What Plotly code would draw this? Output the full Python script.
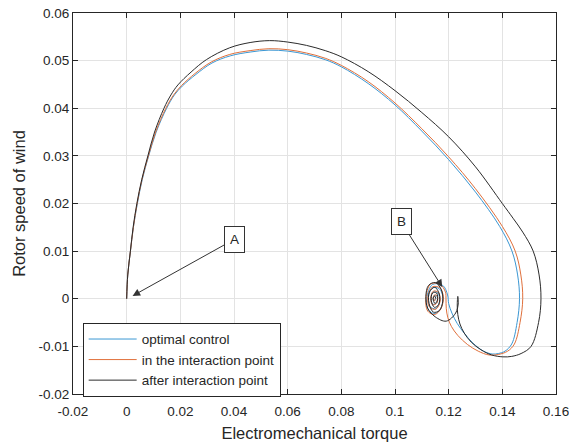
import plotly.graph_objects as go

# Trajectories in the (torque, rotor speed) plane
opt_x = [0, 0.0004, 0.0014, 0.0025, 0.0040, 0.0058, 0.0082, 0.0110, 0.0149, 0.0178, 0.0208,
         0.0258, 0.0318, 0.0386, 0.0460, 0.0530,
         0.0600, 0.0670, 0.0740, 0.0800, 0.0900, 0.1000, 0.1100, 0.1200, 0.1300, 0.1390,
         0.1436, 0.1457, 0.1464, 0.1455, 0.1435,
         0.1410, 0.1385, 0.1362, 0.1330, 0.1290, 0.1259, 0.1232, 0.1212, 0.1200, 0.1196,
         0.1178, 0.1140, 0.1118, 0.1125, 0.1150, 0.1172, 0.1178, 0.1165, 0.1140, 0.1125,
         0.1130, 0.1152, 0.1166, 0.1160, 0.1143, 0.1134, 0.1142, 0.1156, 0.1156, 0.1147,
         0.1143, 0.1148, 0.1150]
opt_y = [0, 0.0050, 0.0100, 0.0150, 0.0200, 0.0250, 0.0300, 0.0350, 0.0400, 0.0428, 0.0447,
         0.0471, 0.0495, 0.0510, 0.0518, 0.0522,
         0.0520, 0.0513, 0.0502, 0.0487, 0.0452, 0.0407, 0.0352, 0.0292, 0.0224, 0.0152,
         0.0100, 0.0050, 0.0000, -0.0050, -0.0095,
         -0.0110, -0.0115, -0.0116, -0.0110, -0.0093, -0.0073, -0.0052, -0.0030, -0.0010, 0.0008,
         0.0028, 0.0030, 0.0000, -0.0024, -0.0031, -0.0019, 0.0005, 0.0021, 0.0023, 0.0005,
         -0.0016, -0.0021, -0.0005, 0.0012, 0.0015, 0.0000, -0.0012, -0.0008, 0.0006, 0.0007,
         0.0000, -0.0004, 0.0000]

int_x = [0, 0.0004, 0.0014, 0.0025, 0.0039, 0.0057, 0.0081, 0.0108, 0.0146, 0.0175, 0.0205,
         0.0255, 0.0315, 0.0384, 0.0460, 0.0530,
         0.0600, 0.0670, 0.0740, 0.0800, 0.0900, 0.1000, 0.1100, 0.1200, 0.1300, 0.1400,
         0.1448, 0.1469, 0.1476, 0.1466, 0.1445,
         0.1420, 0.1385, 0.1350, 0.1310, 0.1270, 0.1234, 0.1210, 0.1197, 0.1191, 0.1190, 0.1188,
         0.1168, 0.1133, 0.1115, 0.1122, 0.1148, 0.1172, 0.1180, 0.1167, 0.1140, 0.1123,
         0.1128, 0.1152, 0.1168, 0.1162, 0.1143, 0.1133, 0.1141, 0.1157, 0.1157, 0.1147,
         0.1142, 0.1148, 0.1150]
int_y = [0, 0.0050, 0.0100, 0.0150, 0.0200, 0.0250, 0.0300, 0.0350, 0.0400, 0.0428, 0.0448,
         0.0473, 0.0497, 0.0513, 0.0521, 0.0525,
         0.0523, 0.0516, 0.0505, 0.0490, 0.0456, 0.0411, 0.0357, 0.0298, 0.0231, 0.0152,
         0.0100, 0.0050, 0.0000, -0.0050, -0.0095,
         -0.0110, -0.0117, -0.0118, -0.0110, -0.0096, -0.0077, -0.0058, -0.0040, -0.0020, 0.0000, 0.0014,
         0.0030, 0.0031, 0.0000, -0.0026, -0.0033, -0.0020, 0.0005, 0.0023, 0.0025, 0.0005,
         -0.0017, -0.0022, -0.0005, 0.0013, 0.0016, 0.0000, -0.0013, -0.0008, 0.0006, 0.0008,
         0.0000, -0.0004, 0.0000]

aft_x = [0, 0.0004, 0.0014, 0.0024, 0.0038, 0.0056, 0.0079, 0.0104, 0.0139, 0.0165, 0.0191,
         0.0240, 0.0297, 0.0384, 0.0460, 0.0533,
         0.0600, 0.0670, 0.0740, 0.0800, 0.0900, 0.1000, 0.1100, 0.1200, 0.1300, 0.1400,
         0.1440, 0.1476, 0.1515, 0.1537, 0.1544, 0.1535, 0.1507,
         0.1470, 0.1435, 0.1402, 0.1360, 0.1320, 0.1284, 0.1258, 0.1242, 0.1234, 0.1232, 0.1234,
         0.1236, 0.1226, 0.1191, 0.1150, 0.1122, 0.1115, 0.1125, 0.1150, 0.1172, 0.1178,
         0.1165, 0.1143, 0.1127, 0.1128, 0.1148, 0.1165, 0.1163, 0.1147, 0.1135, 0.1140,
         0.1155, 0.1158, 0.1149, 0.1142, 0.1148, 0.1152]
aft_y = [0, 0.0050, 0.0100, 0.0150, 0.0200, 0.0250, 0.0300, 0.0350, 0.0400, 0.0428, 0.0449,
         0.0476, 0.0502, 0.0527, 0.0538, 0.0542,
         0.0539, 0.0532, 0.0521, 0.0508, 0.0477, 0.0437, 0.0391, 0.0340, 0.0277, 0.0200,
         0.0169, 0.0140, 0.0100, 0.0050, 0.0000, -0.0050, -0.0100,
         -0.0115, -0.0121, -0.0122, -0.0118, -0.0107, -0.0091, -0.0072, -0.0053, -0.0033, -0.0013, 0.0005,
         -0.0008, -0.0030, -0.0047, -0.0038, -0.0020, 0.0005, 0.0028, 0.0034, 0.0020, -0.0005,
         -0.0025, -0.0028, -0.0010, 0.0014, 0.0024, 0.0010, -0.0012, -0.0018, -0.0004, 0.0012,
         0.0012, -0.0003, -0.0010, 0.0000, 0.0006, 0.0000]

series_names = ["optimal control", "in the interaction point", "after interaction point"]
series_colors = ["#3b97d3", "#e0703c", "#2b2b2b"]

x_ticks = [-0.02, 0, 0.02, 0.04, 0.06, 0.08, 0.10, 0.12, 0.14, 0.16]
x_tick_labels = ["-0.02", "0", "0.02", "0.04", "0.06", "0.08", "0.1", "0.12", "0.14", "0.16"]
y_ticks = [-0.02, -0.01, 0, 0.01, 0.02, 0.03, 0.04, 0.05, 0.06]
y_tick_labels = ["-0.02", "-0.01", "0", "0.01", "0.02", "0.03", "0.04", "0.05", "0.06"]

FONT = "Liberation Sans, Arial, sans-serif"
INK = "#262626"

fig = go.Figure()
for xs, ys, name, color in zip([opt_x, int_x, aft_x], [opt_y, int_y, aft_y],
                               series_names, series_colors):
    fig.add_trace(go.Scatter(x=xs, y=ys, mode="lines", name=name,
                             line=dict(color=color, width=1, shape="spline", smoothing=1.0)))

common_axis = dict(showgrid=True, gridcolor="#e3e3e3", gridwidth=1, zeroline=False,
                   showline=True, linecolor=INK, linewidth=1, mirror="ticks",
                   ticks="inside", ticklen=5, tickcolor=INK, automargin=False,
                   ticklabeloverflow="allow",
                   tickfont=dict(family=FONT, size=13.5, color=INK))

fig.update_xaxes(range=[-0.02, 0.16], tickvals=x_ticks, ticktext=x_tick_labels,
                 ticklabelstandoff=5,
                 title=dict(text="Electromechanical torque",
                            font=dict(size=16.5, color=INK, family=FONT), standoff=9),
                 **common_axis)
fig.update_yaxes(range=[-0.02, 0.06], tickvals=y_ticks, ticktext=y_tick_labels,
                 title=dict(text="Rotor speed of wind",
                            font=dict(size=16.5, color=INK, family=FONT), standoff=8),
                 **common_axis)

# Labelled arrows marking the start point and the settling point
markers = [("A", 0.0022, 0.0006, 0.0402, 0.0125), ("B", 0.1176, 0.00245, 0.1023, 0.01615)]
for label, hx, hy, tx, ty in markers:
    fig.add_annotation(x=hx, y=hy, ax=tx, ay=ty, xref="x", yref="y", axref="x", ayref="y",
                       text=label, showarrow=True, arrowhead=2, arrowsize=1.5, arrowwidth=1,
                       arrowcolor="#333333", bordercolor="#333333", borderwidth=1, borderpad=5,
                       bgcolor="white", font=dict(family=FONT, size=13.5, color=INK))

fig.update_layout(
    width=569, height=445,
    margin=dict(l=73, r=13, t=13, b=51),
    plot_bgcolor="white", paper_bgcolor="white",
    showlegend=True,
    legend=dict(x=0.020, y=0.187, xanchor="left", yanchor="top",
                bgcolor="white", bordercolor=INK, borderwidth=1,
                font=dict(family=FONT, size=13.5, color=INK),
                tracegroupgap=0, itemwidth=48),
)

fig.write_html("out.html")
